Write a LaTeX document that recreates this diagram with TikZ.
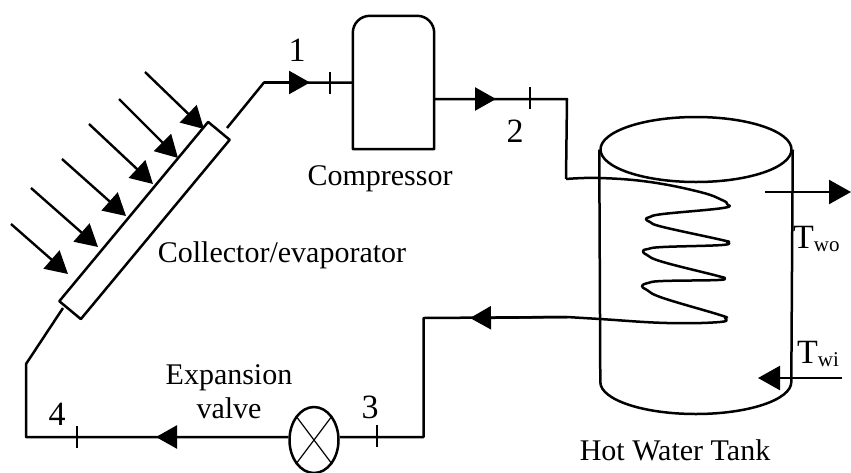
\documentclass[tikz,border=0pt]{standalone}
\usepackage{fontspec}
\setmainfont{Liberation Serif}
\usetikzlibrary{arrows.meta,shapes.geometric}
\newcommand{\waterlabel}[1]{T{\fontsize{21}{21}\selectfont\raisebox{-3pt}{#1}}}
\tikzset{
    pipe-line/.style = {draw=black, line width=2.5pt, line join=round},
    flow-arrow/.style = {pipe-line, -{Triangle[length=21pt,width=23pt]}},
    sun-arrow/.style = {draw=black, line width=2.4pt, -{Triangle[length=22pt,width=24pt]}},
    tick-mark/.style = {draw=black, line width=2.4pt},
    diagram-label/.style = {font=\fontsize{30}{34}\selectfont, inner sep=0pt, align=center, anchor=base},
    state-label/.style = {font=\fontsize{34}{34}\selectfont, inner sep=0pt, anchor=base},
}

\begin{document}
\begin{tikzpicture}[x=1pt,y=-1pt]
\useasboundingbox (0,0) rectangle (851,472);

\node [pipe-line, rectangle, fill=white, rotate=50.3, minimum width=233pt, minimum height=28pt, inner sep=0pt] (collector) at (144.5,220.5) {};
\node [rectangle, minimum width=81pt, minimum height=133pt, inner sep=0pt] (compressor) at (393.5,82.5) {};
\node [pipe-line, ellipse, minimum width=49pt, minimum height=66pt, inner sep=0pt] (valve) at (314,440) {};
\node [pipe-line, ellipse, minimum width=191pt, minimum height=65pt, inner sep=0pt] (tank-top) at (696,149.5) {};
\node [rectangle, minimum width=191pt, minimum height=2pt, inner sep=0pt] (tank-base) at (696,382) {};

\draw [pipe-line] (compressor.south west) [rounded corners=17pt] -- (compressor.north west) -- (compressor.north east) [sharp corners] -- (compressor.south east) -- cycle;
\draw [pipe-line] (tank-top.west) -- (tank-base.west) arc[start angle=180, end angle=360, x radius=95.5pt, y radius=32pt] -- (tank-top.east);
\draw [line width=1.2pt] (valve.north west) -- (valve.south east);
\draw [line width=1.2pt] (valve.north east) -- (valve.south west);

\foreach \sx/\sy/\ex/\ey in {145/72/204/129, 119/99/178/158, 89/124/153/184, 62/159/126/216, 31/188/98/247, 11/224/68/274} {
    \draw [sun-arrow] (\sx,\sy) -- (\ex,\ey);
}

\coordinate (collector-out) at (227,128);
\coordinate (collector-in) at (63,308);
\coordinate (bend-one) at (264,82.5);
\coordinate (arrow-one) at (310,82.5);
\coordinate (compressor-out) at (434,99);
\coordinate (arrow-two) at (496,99);
\coordinate (bend-two) at (567,99);
\coordinate (coil-in) at (566,179);
\coordinate (coil-out) at (567,317);
\coordinate (arrow-three) at (470,318);
\coordinate (bend-three) at (423.5,318);
\coordinate (bend-four) at (423.5,437);
\coordinate (arrow-four) at (156,437);
\coordinate (bend-five) at (26,437);
\coordinate (bend-six) at (26,364);
\coordinate (water-out) at (765,192);
\coordinate (water-out-end) at (851,192);
\coordinate (water-in) at (842,378);
\coordinate (water-in-end) at (758,378);

\draw [pipe-line] (collector-out) -- (bend-one) -- (arrow-one) -- (compressor.west);
\draw [flow-arrow] (bend-one) -- (arrow-one);
\draw [pipe-line] (compressor-out) -- (bend-two) -- (coil-in);
\draw [flow-arrow] (compressor-out) -- (arrow-two);
\draw [pipe-line] plot [smooth, tension=0.7] coordinates {(566,179) (600,178) (650,182) (700,192) (722,200) (727,204) (723,208) (663,214) (650,217) (646,219) (650,222) (663,227) (722,240) (727,242) (722,245) (663,247) (648,249) (643,251) (647,255) (663,262) (718,276) (723,278) (718,280) (663,281) (648,283) (642,286) (647,290) (663,298) (720,315) (725,318) (720,322) (667,323) (600,319) (567,317)};
\draw [pipe-line] (coil-out) -- (bend-three) -- (bend-four) -- (valve.east |- bend-four);
\draw [flow-arrow] (coil-out) -- (arrow-three);
\draw [pipe-line] (valve.west |- bend-four) -- (bend-five) -- (bend-six) -- (collector-in);
\draw [flow-arrow] (valve.west |- bend-four) -- (arrow-four);
\draw [sun-arrow] (water-out) -- (water-out-end);
\draw [sun-arrow] (water-in) -- (water-in-end);

\foreach \tx/\ty in {330/83, 530/98, 377/436, 77/437} {
    \draw [tick-mark] (\tx,\ty-11) -- (\tx,\ty+11);
}

\node [state-label] (state-one) at (297,61) {1};
\node [state-label] (state-two) at (515,142) {2};
\node [state-label] (state-three) at (370,418) {3};
\node [state-label] (state-four) at (57,425) {4};
\node [diagram-label] (compressor-label) at (380,185) {Compressor};
\node [diagram-label] (collector-label) at (282,262) {Collector/evaporator};
\node [diagram-label, anchor=center] (valve-label) at (229,392) {Expansion\\valve};
\node [diagram-label] (tank-label) at (675,460) {Hot Water Tank};
\node [state-label, anchor=base west] (water-out-label) at (793,248) {\waterlabel{wo}};
\node [state-label, anchor=base west] (water-in-label) at (797,363) {\waterlabel{wi}};
\end{tikzpicture}
\end{document}
